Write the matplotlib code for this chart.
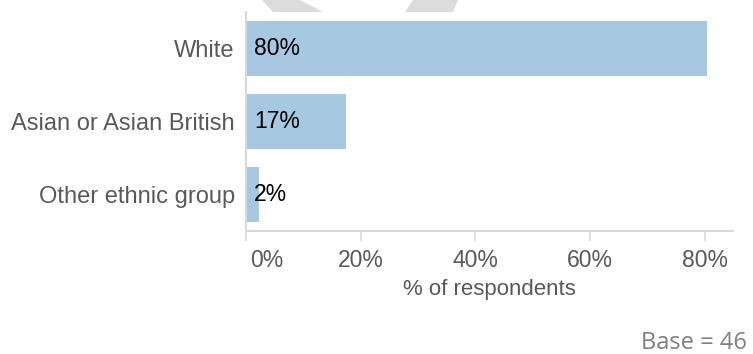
import matplotlib
matplotlib.use("Agg")
import matplotlib.pyplot as plt
from matplotlib.patches import Polygon
from matplotlib.transforms import ScaledTranslation

groups = ["White", "Asian or Asian British", "Other ethnic group"]
shares = [80.4, 17.4, 2.2]  # 37, 8 and 1 of 46 respondents
ticks = [0, 20, 40, 60, 80]
base_n = 46

text_grey = "#595959"
line_grey = "#d9d9d9"
bar_blue = "#a6c8e0"

plt.rcParams["font.family"] = ["Liberation Sans", "DejaVu Sans"]

W, H = 753, 354
fig = plt.figure(figsize=(W / 100, H / 100), dpi=100)

# faint chevron pieces peeking out above the plot
for pts in ([(262, 0), (300, 0), (323, 12), (273, 12)],
            [(413, 0), (458, 0), (453, 12), (405, 12)]):
    fig.patches.append(Polygon([(x / W, 1 - y / H) for x, y in pts], closed=True,
                               transform=fig.transFigure, facecolor="#dcdcdc",
                               edgecolor="none", zorder=0))

ax = fig.add_axes([246 / W, 1 - 231 / H, (733 - 246) / W, (231 - 12) / H])
ax.set_facecolor("white")
ax.set_zorder(1)

y = list(range(len(groups)))
ax.barh(y, shares, height=0.76, color=bar_blue, zorder=2)
for yi, v in zip(y, shares):
    ax.annotate(f"{v:.0f}%", (0, yi), xytext=(6, 0), textcoords="offset points",
                ha="left", va="center", fontsize=16.5, color="black", zorder=3)

ax.set_ylim(len(groups) - 0.5, -0.5)
ax.set_xlim(0, 84.9)
ax.set_yticks(y)
ax.set_yticklabels(groups, fontsize=17, color=text_grey)
ax.tick_params(axis="y", length=0, pad=8)

ax.set_xticks(ticks)
ax.set_xticklabels([f"{t}%" for t in ticks], fontsize=16.5, color=text_grey)
ax.tick_params(axis="x", length=7, width=1.2, color=line_grey, pad=6)
first = ax.get_xticklabels()[0]
first.set_transform(first.get_transform() + ScaledTranslation(0.21, 0, fig.dpi_scale_trans))

ax.set_xlabel("% of respondents", fontsize=16, color=text_grey, labelpad=5)

for side in ("top", "right"):
    ax.spines[side].set_visible(False)
for side in ("left", "bottom"):
    ax.spines[side].set_color(line_grey)
    ax.spines[side].set_linewidth(1.5)

fig.text(747 / W, 1 - 349 / H, f"Base = {base_n}", ha="right", va="baseline",
         fontsize=17, color="#7f7f7f", family=["Open Sans", "DejaVu Sans"])

fig.savefig("out.png", dpi=100)
